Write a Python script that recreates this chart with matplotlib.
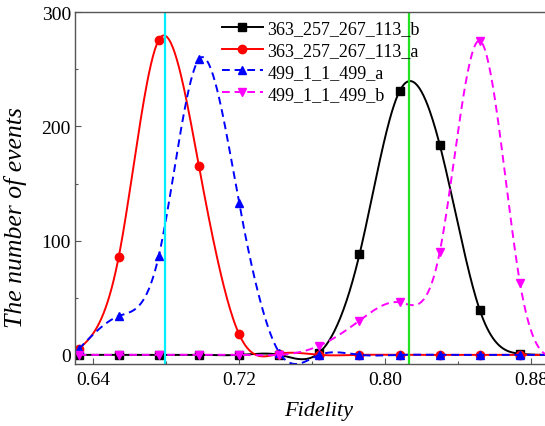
import matplotlib
matplotlib.use("Agg")
import matplotlib.pyplot as plt
from matplotlib.lines import Line2D
from matplotlib.ticker import MultipleLocator, FormatStrFormatter
import numpy as np

# Histogram bins (fidelity) and event counts per run
fidelity = [0.632, 0.654, 0.676, 0.698, 0.720, 0.742, 0.764,
            0.786, 0.808, 0.830, 0.852, 0.874, 0.896]
b_363 = [0, 0, 0, 0, 0, 0, 2, 88, 231, 184, 39, 1, 0]
a_363 = [5, 86, 276, 165, 18, 1, 0, 0, 0, 0, 0, 0, 0]
a_499 = [5, 34, 87, 259, 133, 2, 0, 0, 0, 0, 0, 0, 0]
b_499 = [0, 0, 0, 0, 0, 0, 8, 30, 46, 90, 275, 63, 0]

series_names = ["363_257_267_113_b", "363_257_267_113_a",
                "499_1_1_499_a", "499_1_1_499_b"]

# mean fidelity markers
mean_a = 0.6795
mean_b = 0.8133


def natural_spline(x, y, num=40):
    x = np.asarray(x, float)
    y = np.asarray(y, float)
    n = len(x)
    h = np.diff(x)
    A = np.zeros((n, n))
    rhs = np.zeros(n)
    A[0, 0] = A[-1, -1] = 1.0
    for i in range(1, n - 1):
        A[i, i - 1] = h[i - 1]
        A[i, i] = 2 * (h[i - 1] + h[i])
        A[i, i + 1] = h[i]
        rhs[i] = 6 * ((y[i + 1] - y[i]) / h[i] - (y[i] - y[i - 1]) / h[i - 1])
    M = np.linalg.solve(A, rhs)
    xs, ys = [], []
    for i in range(n - 1):
        t = np.linspace(x[i], x[i + 1], num, endpoint=(i == n - 2))
        a = x[i + 1] - t
        c = t - x[i]
        s = (M[i] * a ** 3 / (6 * h[i]) + M[i + 1] * c ** 3 / (6 * h[i])
             + (y[i] / h[i] - M[i] * h[i] / 6) * a
             + (y[i + 1] / h[i] - M[i + 1] * h[i] / 6) * c)
        xs.append(t)
        ys.append(s)
    return np.concatenate(xs), np.concatenate(ys)


plt.rcParams['font.family'] = ['Liberation Serif', 'DejaVu Serif']

fig = plt.figure(figsize=(5.45, 4.27), dpi=100)
ax = fig.add_axes([0.1376, 0.1452, 0.9035, 0.8237])

styles = [
    dict(color='black', ls='-', marker='s'),
    dict(color='#ff0000', ls='-', marker='o'),
    dict(color='#0000ff', ls=(0, (4, 2.5)), marker='^'),
    dict(color='#ff00ff', ls=(0, (4, 2.5)), marker='v'),
]

handles = []
for vals, name, st in zip([b_363, a_363, a_499, b_499], series_names, styles):
    xs, ys = natural_spline(fidelity, vals)
    ax.plot(xs, ys, color=st['color'], ls=st['ls'], lw=1.4)
    ax.plot(fidelity, vals, ls='none', marker=st['marker'],
            color=st['color'], markersize=6)
    handles.append(Line2D([], [], color=st['color'], ls=st['ls'], lw=1.4,
                          marker=st['marker'], markersize=6, label=name))

ax.axvline(mean_a, color='#00f0ff', lw=1.6)
ax.axvline(mean_b, color='#22e022', lw=1.6)

ax.set_xlim(0.630, 0.900)
ax.set_ylim(-8, 300)

ax.xaxis.set_major_locator(MultipleLocator(0.08))
ax.xaxis.set_minor_locator(MultipleLocator(0.04))
ax.xaxis.set_major_formatter(FormatStrFormatter('%.2f'))
ax.yaxis.set_major_locator(MultipleLocator(100))
ax.yaxis.set_minor_locator(MultipleLocator(50))

ax.tick_params(which='both', direction='in', top=False, right=False,
               labelsize=14, colors='#555555', labelcolor='black')
ax.tick_params(which='major', length=4, width=0.8, pad=5)
ax.tick_params(axis='y', which='major', pad=3)
ax.tick_params(which='minor', length=2.5, width=0.8)
for sp in ax.spines.values():
    sp.set_color('#555555')
    sp.set_linewidth(1.0)

ax.set_xlabel('Fidelity', fontsize=16, style='italic')
ax.set_ylabel('The number of events', fontsize=18.5, style='italic')
ax.xaxis.set_label_coords(0.495, -0.105)
ax.yaxis.set_label_coords(-0.097, 0.42)

fig.legend(handles=handles, loc='upper left',
           bbox_to_anchor=(221.7 / 545, 1 - 21 / 427),
           frameon=False, fontsize=13, handlelength=2.27,
           handletextpad=0.25, labelspacing=0.27,
           borderpad=0, borderaxespad=0, numpoints=1)

fig.savefig('out.png', dpi=100)
